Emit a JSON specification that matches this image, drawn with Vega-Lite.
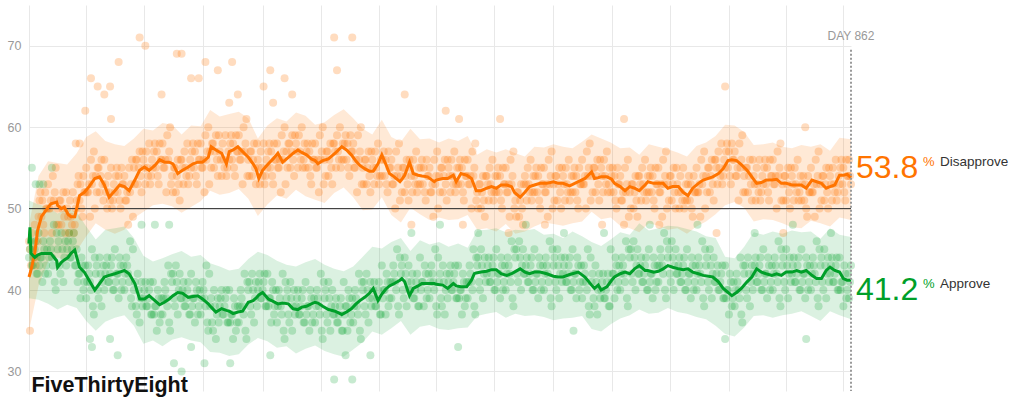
{
"$schema": "https://vega.github.io/schema/vega-lite/v6.json",
"width": 822,
"height": 386,
"autosize": {"type": "none"},
"padding": {"left": 29, "top": 5, "right": 159, "bottom": 7},
"background": "white",
"config": {"font": "Liberation Sans", "view": {"stroke": null}, "axis": {"domain": false, "ticks": false, "gridColor": "#e8e8e8", "gridWidth": 1}},
"datasets": {
"band": [
{"d":0,"al":39,"ah":51,"pl":35,"ph":48},
{"d":10,"al":38.8,"ah":50.5,"pl":40.5,"ph":54},
{"d":20,"al":38.3,"ah":50.2,"pl":43.5,"ph":55.8},
{"d":30,"al":37.6,"ah":49.4,"pl":44,"ph":55.6},
{"d":40,"al":38.2,"ah":50,"pl":43.6,"ph":55.4},
{"d":50,"al":37.8,"ah":49.6,"pl":44.8,"ph":56.8},
{"d":60,"al":36.2,"ah":47.8,"pl":46.6,"ph":58.8},
{"d":70,"al":35,"ah":46.2,"pl":48.2,"ph":59.5},
{"d":80,"al":36.1,"ah":47.4,"pl":47.4,"ph":58.3},
{"d":90,"al":36.6,"ah":47.6,"pl":46.9,"ph":57.9},
{"d":100,"al":36.9,"ah":47.8,"pl":47.4,"ph":57.7},
{"d":110,"al":35.6,"ah":46.4,"pl":48.8,"ph":58.6},
{"d":120,"al":33.4,"ah":44.2,"pl":49.6,"ph":59.8},
{"d":130,"al":33.8,"ah":43.5,"pl":50.4,"ph":59.6},
{"d":140,"al":33.1,"ah":43.9,"pl":50.6,"ph":60.5},
{"d":150,"al":33.9,"ah":44.4,"pl":50.3,"ph":60.3},
{"d":160,"al":34.2,"ah":44.8,"pl":49.5,"ph":59.1},
{"d":170,"al":33.8,"ah":44.1,"pl":50.2,"ph":60.2},
{"d":180,"al":33.6,"ah":44.3,"pl":50.9,"ph":60.1},
{"d":190,"al":32.4,"ah":43.3,"pl":52.2,"ph":62.1},
{"d":200,"al":32.3,"ah":42.9,"pl":51.7,"ph":61.3},
{"d":210,"al":31.9,"ah":42.4,"pl":51.9,"ph":61.6},
{"d":220,"al":32.1,"ah":42.6,"pl":52.4,"ph":61.9},
{"d":230,"al":33.3,"ah":43.8,"pl":51.2,"ph":61.1},
{"d":240,"al":34.1,"ah":44.7,"pl":49.1,"ph":58.6},
{"d":250,"al":33.7,"ah":44.3,"pl":50.5,"ph":60.2},
{"d":260,"al":32.9,"ah":43.6,"pl":51.6,"ph":61.1},
{"d":270,"al":33.1,"ah":43.1,"pl":51.2,"ph":60.7},
{"d":280,"al":32.2,"ah":42.9,"pl":52.3,"ph":61.8},
{"d":290,"al":32.8,"ah":43.4,"pl":51.5,"ph":61.4},
{"d":300,"al":33.2,"ah":43.8,"pl":51.1,"ph":60.3},
{"d":310,"al":32.5,"ah":43.1,"pl":50.7,"ph":60.6},
{"d":320,"al":32.1,"ah":42.6,"pl":51.9,"ph":61.5},
{"d":330,"al":31.8,"ah":42.3,"pl":52.6,"ph":62.2},
{"d":340,"al":32.7,"ah":42.9,"pl":51.4,"ph":61.1},
{"d":350,"al":33.6,"ah":44.1,"pl":49.8,"ph":59.8},
{"d":360,"al":34.9,"ah":45.3,"pl":49.9,"ph":59.1},
{"d":370,"al":34.5,"ah":45.1,"pl":51.4,"ph":60.9},
{"d":380,"al":35.3,"ah":45.9,"pl":49.2,"ph":58.8},
{"d":390,"al":36.2,"ah":46.4,"pl":48.3,"ph":58.2},
{"d":400,"al":34.5,"ah":44.8,"pl":50.1,"ph":59.8},
{"d":410,"al":35.5,"ah":46.1,"pl":49.3,"ph":58.5},
{"d":420,"al":35.7,"ah":45.6,"pl":48.6,"ph":58.6},
{"d":430,"al":35.2,"ah":45.9,"pl":48.9,"ph":58.1},
{"d":440,"al":35.1,"ah":45.3,"pl":48.6,"ph":58.6},
{"d":450,"al":35.3,"ah":45.7,"pl":48.7,"ph":58.3},
{"d":460,"al":35.4,"ah":45.2,"pl":49.2,"ph":58.9},
{"d":470,"al":36.8,"ah":47.3,"pl":47.4,"ph":56.6},
{"d":480,"al":37.1,"ah":47.4,"pl":47.6,"ph":57.3},
{"d":490,"al":37.3,"ah":47.6,"pl":47.2,"ph":56.9},
{"d":500,"al":36.6,"ah":47.1,"pl":48.1,"ph":57.3},
{"d":510,"al":37.1,"ah":47.4,"pl":46.9,"ph":56.8},
{"d":520,"al":36.8,"ah":47.3,"pl":47.2,"ph":56.4},
{"d":530,"al":36.9,"ah":47.5,"pl":47.8,"ph":57.6},
{"d":540,"al":36.7,"ah":46.8,"pl":48.3,"ph":57.5},
{"d":550,"al":36.3,"ah":46.9,"pl":48.1,"ph":57.9},
{"d":560,"al":36.5,"ah":46.4,"pl":47.9,"ph":57.6},
{"d":570,"al":36.6,"ah":47.2,"pl":48.2,"ph":57.4},
{"d":580,"al":36.8,"ah":46.6,"pl":48.4,"ph":58.2},
{"d":590,"al":35.2,"ah":45.9,"pl":49.6,"ph":59.1},
{"d":600,"al":34.9,"ah":45.4,"pl":48.7,"ph":58.6},
{"d":610,"al":35.8,"ah":46.2,"pl":48.9,"ph":58.1},
{"d":620,"al":36.5,"ah":47.1,"pl":47.9,"ph":57.4},
{"d":630,"al":36.9,"ah":46.8,"pl":47.6,"ph":57.5},
{"d":640,"al":37.6,"ah":48.2,"pl":47.1,"ph":56.6},
{"d":650,"al":37.1,"ah":47.3,"pl":48.2,"ph":57.9},
{"d":660,"al":37.2,"ah":47.6,"pl":47.9,"ph":57.6},
{"d":670,"al":37.8,"ah":47.9,"pl":47.4,"ph":57.3},
{"d":680,"al":37.3,"ah":47.8,"pl":47.6,"ph":56.9},
{"d":690,"al":37.1,"ah":47.5,"pl":46.9,"ph":56.4},
{"d":700,"al":36.7,"ah":47.2,"pl":47.8,"ph":57.7},
{"d":710,"al":36.4,"ah":46.6,"pl":48.4,"ph":58.1},
{"d":720,"al":35.6,"ah":46.4,"pl":49.3,"ph":58.9},
{"d":730,"al":34.6,"ah":44.1,"pl":50.4,"ph":60.3},
{"d":740,"al":34.3,"ah":43.9,"pl":50.8,"ph":60.2},
{"d":750,"al":35.4,"ah":45.3,"pl":50.1,"ph":59.4},
{"d":760,"al":36.8,"ah":47.1,"pl":48.4,"ph":57.8},
{"d":770,"al":36.9,"ah":46.8,"pl":48.7,"ph":57.9},
{"d":780,"al":36.6,"ah":47.2,"pl":48.6,"ph":58.1},
{"d":790,"al":36.9,"ah":46.9,"pl":48.2,"ph":57.6},
{"d":800,"al":37.1,"ah":47.3,"pl":47.7,"ph":57.4},
{"d":810,"al":37.4,"ah":47.1,"pl":47.6,"ph":57.8},
{"d":820,"al":36.8,"ah":47.2,"pl":48.5,"ph":57.6},
{"d":830,"al":36.2,"ah":46.3,"pl":48.2,"ph":57.9},
{"d":840,"al":37.4,"ah":47.6,"pl":47.8,"ph":57.1},
{"d":850,"al":36.9,"ah":46.8,"pl":48.9,"ph":58.7},
{"d":862,"al":36.4,"ah":46.5,"pl":48.6,"ph":58.5}
],
"trend": [
{"d":0,"a":45.7,"p":41.6},{"d":1,"a":47.7,"p":42},{"d":2,"a":44.5,"p":42.4},{"d":6,"a":44,"p":44.5},{"d":9,"a":44.3,"p":47.3},{"d":13,"a":44.5,"p":49},{"d":18,"a":44.5,"p":49.8},{"d":23,"a":44.5,"p":50.6},{"d":29,"a":43.6,"p":50.8},{"d":30,"a":42.8,"p":50.4},{"d":34,"a":43.4,"p":50},{"d":37,"a":43.7,"p":50.2},{"d":41,"a":44,"p":49.3},{"d":44,"a":44.5,"p":49},{"d":48,"a":44.9,"p":49},{"d":53,"a":42.8,"p":51.6},{"d":58,"a":42.2,"p":52},{"d":63,"a":41.2,"p":52.7},{"d":69,"a":40,"p":53.7},{"d":74,"a":40.8,"p":53.9},{"d":79,"a":41.6,"p":52.9},{"d":84,"a":41.8,"p":51.4},{"d":90,"a":42,"p":52.2},{"d":95,"a":42.2,"p":52.9},{"d":100,"a":42.4,"p":52.7},{"d":105,"a":42,"p":52.2},{"d":111,"a":40.8,"p":53.5},{"d":116,"a":38.9,"p":54.7},{"d":121,"a":38.9,"p":55.1},{"d":126,"a":39.3,"p":54.7},{"d":132,"a":38.7,"p":55.3},{"d":137,"a":38.2,"p":56},{"d":142,"a":38.5,"p":55.7},{"d":147,"a":38.9,"p":55.7},{"d":151,"a":39.3,"p":55.5},{"d":156,"a":39.7,"p":54.3},{"d":161,"a":39.6,"p":54.7},{"d":167,"a":39.1,"p":55.1},{"d":172,"a":39.2,"p":55.5},{"d":177,"a":39.3,"p":55.7},{"d":182,"a":38.9,"p":55.7},{"d":188,"a":38.3,"p":56.3},{"d":191,"a":37.9,"p":57.6},{"d":196,"a":37.3,"p":57.2},{"d":202,"a":37.7,"p":56.8},{"d":207,"a":37.5,"p":55.5},{"d":210,"a":37.4,"p":57},{"d":214,"a":37.1,"p":57.2},{"d":219,"a":37.3,"p":57.6},{"d":224,"a":37.4,"p":57},{"d":230,"a":38.5,"p":56.3},{"d":235,"a":38.7,"p":55.5},{"d":238,"a":39,"p":54.9},{"d":241,"a":39.4,"p":53.7},{"d":245,"a":39.7,"p":54.7},{"d":251,"a":38.9,"p":55.5},{"d":256,"a":38.6,"p":56.1},{"d":261,"a":38.3,"p":56.8},{"d":266,"a":38.4,"p":55.7},{"d":272,"a":38.3,"p":56.3},{"d":277,"a":37.7,"p":56.8},{"d":282,"a":37.6,"p":57.2},{"d":286,"a":37.9,"p":56.9},{"d":291,"a":38,"p":56.6},{"d":296,"a":38.3,"p":56.1},{"d":300,"a":38.5,"p":55.9},{"d":303,"a":38.4,"p":55.5},{"d":308,"a":38,"p":55.9},{"d":314,"a":37.6,"p":56.1},{"d":321,"a":37.4,"p":56.8},{"d":328,"a":37,"p":57.6},{"d":333,"a":37.3,"p":57.2},{"d":338,"a":37.7,"p":56.6},{"d":343,"a":38.3,"p":55.8},{"d":347,"a":38.7,"p":55.3},{"d":352,"a":39.1,"p":54.9},{"d":357,"a":39.6,"p":54.6},{"d":361,"a":40.2,"p":54.6},{"d":366,"a":38.7,"p":55.5},{"d":370,"a":39.5,"p":56.6},{"d":374,"a":40.1,"p":55.5},{"d":378,"a":40.5,"p":54.3},{"d":383,"a":40.8,"p":53.9},{"d":389,"a":41.2,"p":53.3},{"d":391,"a":41.4,"p":53.6},{"d":394,"a":41,"p":54.1},{"d":399,"a":39.3,"p":55.7},{"d":403,"a":40.2,"p":54.3},{"d":408,"a":40.5,"p":54.1},{"d":412,"a":40.8,"p":54},{"d":418,"a":40.8,"p":53.9},{"d":425,"a":40.8,"p":53.3},{"d":427,"a":40.7,"p":53.5},{"d":434,"a":40.6,"p":53.7},{"d":439,"a":40.2,"p":53.7},{"d":445,"a":40.8,"p":54.1},{"d":448,"a":40.5,"p":53.3},{"d":453,"a":40.4,"p":54.3},{"d":459,"a":40.4,"p":54.1},{"d":464,"a":41.2,"p":53.7},{"d":467,"a":42,"p":52.8},{"d":469,"a":42.1,"p":52.2},{"d":474,"a":42.2,"p":52.2},{"d":480,"a":42.3,"p":52.5},{"d":485,"a":42.5,"p":52.7},{"d":490,"a":42.5,"p":52.5},{"d":495,"a":42,"p":52.9},{"d":501,"a":41.8,"p":52.9},{"d":506,"a":42,"p":52.7},{"d":509,"a":42.2,"p":52},{"d":515,"a":42.6,"p":51.4},{"d":520,"a":42.2,"p":52},{"d":525,"a":42,"p":52.7},{"d":530,"a":42.2,"p":52.9},{"d":536,"a":42.2,"p":53.1},{"d":543,"a":42,"p":53.1},{"d":550,"a":41.7,"p":53.3},{"d":555,"a":41.6,"p":53.1},{"d":560,"a":41.6,"p":53.1},{"d":567,"a":41.9,"p":52.8},{"d":576,"a":42.2,"p":53.3},{"d":583,"a":41.6,"p":53.7},{"d":590,"a":40.6,"p":54.5},{"d":593,"a":40.2,"p":53.7},{"d":597,"a":40.6,"p":53.8},{"d":600,"a":40,"p":53.9},{"d":606,"a":40.4,"p":53.9},{"d":611,"a":41.2,"p":53.6},{"d":614,"a":41.6,"p":53.1},{"d":620,"a":42,"p":52.7},{"d":625,"a":42.2,"p":52.2},{"d":630,"a":42,"p":52.7},{"d":635,"a":42.6,"p":52.5},{"d":640,"a":43,"p":52.2},{"d":646,"a":42.4,"p":52.9},{"d":649,"a":42.4,"p":53.3},{"d":655,"a":42.2,"p":53.1},{"d":660,"a":42.3,"p":53.1},{"d":665,"a":42.6,"p":53.1},{"d":670,"a":43,"p":52.5},{"d":675,"a":42.8,"p":52.7},{"d":681,"a":42.6,"p":52.7},{"d":686,"a":42.5,"p":52},{"d":691,"a":42.6,"p":51.6},{"d":696,"a":42.2,"p":52.5},{"d":702,"a":42,"p":53.1},{"d":707,"a":41.8,"p":53.5},{"d":717,"a":41.6,"p":53.9},{"d":723,"a":41,"p":54.3},{"d":728,"a":40.2,"p":54.9},{"d":733,"a":39.7,"p":55.9},{"d":737,"a":39.3,"p":56},{"d":742,"a":39.7,"p":55.9},{"d":747,"a":40.2,"p":55.4},{"d":753,"a":41,"p":54.7},{"d":758,"a":41.6,"p":53.9},{"d":763,"a":42.6,"p":53.1},{"d":768,"a":42.2,"p":53.2},{"d":773,"a":42,"p":53.5},{"d":779,"a":41.8,"p":53.5},{"d":784,"a":42,"p":53.6},{"d":789,"a":41.8,"p":53.1},{"d":794,"a":42.2,"p":53.1},{"d":800,"a":42.2,"p":52.9},{"d":805,"a":42.4,"p":52.9},{"d":810,"a":42.2,"p":52.9},{"d":815,"a":42.4,"p":52.5},{"d":821,"a":41.8,"p":53.5},{"d":826,"a":41.4,"p":53.3},{"d":831,"a":41.4,"p":53.1},{"d":836,"a":42.4,"p":52.5},{"d":840,"a":42.8,"p":52.7},{"d":845,"a":42.4,"p":52.9},{"d":850,"a":42.2,"p":54.1},{"d":854,"a":41.4,"p":54.1},{"d":858,"a":41.2,"p":54.2},{"d":862,"a":41.2,"p":53.8}
],
"polls": [
{"d":0,"a":44,"p":46},{"d":2,"a":46,"p":43},{"d":4,"a":43,"p":45},{"d":6,"a":45,"p":48},{"d":8,"a":42,"p":44},
{"d":10,"a":47,"p":49},{"d":12,"a":44,"p":52},{"d":14,"a":41,"p":51},{"d":16,"a":45,"p":47},{"d":18,"a":43,"p":50},
{"d":20,"a":42,"p":53},{"d":22,"a":46,"p":50},{"d":24,"a":44,"p":47},{"d":26,"a":48,"p":51},{"d":28,"a":40,"p":55},
{"d":30,"a":45,"p":50},{"d":32,"a":43,"p":51},{"d":34,"a":47,"p":48},{"d":36,"a":41,"p":52},{"d":38,"a":46,"p":47},
{"d":40,"a":45,"p":50},{"d":42,"a":47,"p":47},{"d":44,"a":44,"p":49},{"d":46,"a":46,"p":52},{"d":48,"a":43,"p":48},
{"d":50,"a":45,"p":51},{"d":52,"a":42,"p":54},{"d":54,"a":39,"p":53},{"d":56,"a":43,"p":49},{"d":58,"a":41,"p":52},
{"d":60,"a":39,"p":55},{"d":62,"a":43,"p":52},{"d":64,"a":41,"p":49},{"d":66,"a":45,"p":53},{"d":68,"a":37,"p":57},
{"d":70,"a":42,"p":54},{"d":72,"a":40,"p":55},{"d":74,"a":44,"p":52},{"d":76,"a":38,"p":56},{"d":78,"a":43,"p":51},
{"d":80,"a":42,"p":53},{"d":82,"a":44,"p":50},{"d":84,"a":41,"p":52},{"d":86,"a":43,"p":55},{"d":88,"a":40,"p":51},
{"d":90,"a":45,"p":52},{"d":92,"a":42,"p":55},{"d":94,"a":39,"p":54},{"d":96,"a":43,"p":50},{"d":98,"a":41,"p":53},
{"d":100,"a":40,"p":54},{"d":102,"a":44,"p":51},{"d":104,"a":42,"p":48},{"d":106,"a":46,"p":52},{"d":108,"a":38,"p":56},
{"d":110,"a":40,"p":55},{"d":112,"a":38,"p":56},{"d":114,"a":42,"p":53},{"d":116,"a":36,"p":57},{"d":118,"a":41,"p":52},
{"d":120,"a":39,"p":56},{"d":122,"a":41,"p":53},{"d":124,"a":38,"p":55},{"d":126,"a":40,"p":58},{"d":128,"a":37,"p":54},
{"d":130,"a":41,"p":55},{"d":132,"a":38,"p":58},{"d":134,"a":35,"p":57},{"d":136,"a":39,"p":53},{"d":138,"a":37,"p":56},
{"d":140,"a":37,"p":58},{"d":142,"a":41,"p":55},{"d":144,"a":39,"p":52},{"d":146,"a":43,"p":56},{"d":148,"a":35,"p":60},
{"d":150,"a":41,"p":54},{"d":152,"a":39,"p":55},{"d":154,"a":43,"p":52},{"d":156,"a":37,"p":56},{"d":158,"a":42,"p":51},
{"d":160,"a":39,"p":56},{"d":162,"a":41,"p":53},{"d":164,"a":38,"p":55},{"d":166,"a":40,"p":58},{"d":168,"a":37,"p":54},
{"d":170,"a":42,"p":55},{"d":172,"a":39,"p":58},{"d":174,"a":36,"p":57},{"d":176,"a":40,"p":53},{"d":178,"a":38,"p":56},
{"d":180,"a":37,"p":58},{"d":182,"a":41,"p":55},{"d":184,"a":39,"p":52},{"d":186,"a":43,"p":56},{"d":188,"a":35,"p":60},
{"d":190,"a":38,"p":57},{"d":192,"a":36,"p":58},{"d":194,"a":40,"p":55},{"d":196,"a":34,"p":59},{"d":198,"a":39,"p":54},
{"d":200,"a":38,"p":57},{"d":202,"a":40,"p":54},{"d":204,"a":37,"p":56},{"d":206,"a":39,"p":59},{"d":208,"a":36,"p":55},
{"d":210,"a":40,"p":56},{"d":212,"a":37,"p":59},{"d":214,"a":34,"p":58},{"d":216,"a":38,"p":54},{"d":218,"a":36,"p":57},
{"d":220,"a":36,"p":59},{"d":222,"a":40,"p":56},{"d":224,"a":38,"p":53},{"d":226,"a":42,"p":57},{"d":228,"a":34,"p":61},
{"d":230,"a":40,"p":56},{"d":232,"a":38,"p":57},{"d":234,"a":42,"p":54},{"d":236,"a":36,"p":58},{"d":238,"a":41,"p":53},
{"d":240,"a":40,"p":56},{"d":242,"a":42,"p":53},{"d":244,"a":39,"p":55},{"d":246,"a":41,"p":58},{"d":248,"a":38,"p":54},
{"d":250,"a":42,"p":55},{"d":252,"a":39,"p":58},{"d":254,"a":36,"p":57},{"d":256,"a":40,"p":53},{"d":258,"a":38,"p":56},
{"d":260,"a":36,"p":58},{"d":262,"a":40,"p":55},{"d":264,"a":38,"p":52},{"d":266,"a":42,"p":56},{"d":268,"a":34,"p":60},
{"d":270,"a":39,"p":57},{"d":272,"a":37,"p":58},{"d":274,"a":41,"p":55},{"d":276,"a":35,"p":59},{"d":278,"a":40,"p":54},
{"d":280,"a":38,"p":58},{"d":282,"a":40,"p":55},{"d":284,"a":37,"p":57},{"d":286,"a":39,"p":60},{"d":288,"a":36,"p":56},
{"d":290,"a":41,"p":55},{"d":292,"a":38,"p":58},{"d":294,"a":35,"p":57},{"d":296,"a":39,"p":53},{"d":298,"a":37,"p":56},
{"d":300,"a":36,"p":58},{"d":302,"a":40,"p":55},{"d":304,"a":38,"p":52},{"d":306,"a":42,"p":56},{"d":308,"a":34,"p":60},
{"d":310,"a":39,"p":56},{"d":312,"a":37,"p":57},{"d":314,"a":41,"p":54},{"d":316,"a":35,"p":58},{"d":318,"a":40,"p":53},
{"d":320,"a":37,"p":58},{"d":322,"a":39,"p":55},{"d":324,"a":36,"p":57},{"d":326,"a":38,"p":60},{"d":328,"a":35,"p":56},
{"d":330,"a":41,"p":56},{"d":332,"a":38,"p":59},{"d":334,"a":35,"p":58},{"d":336,"a":39,"p":54},{"d":338,"a":37,"p":57},
{"d":340,"a":36,"p":58},{"d":342,"a":40,"p":55},{"d":344,"a":38,"p":52},{"d":346,"a":42,"p":56},{"d":348,"a":34,"p":60},
{"d":350,"a":40,"p":55},{"d":352,"a":38,"p":56},{"d":354,"a":42,"p":53},{"d":356,"a":36,"p":57},{"d":358,"a":41,"p":52},
{"d":360,"a":39,"p":56},{"d":362,"a":41,"p":53},{"d":364,"a":38,"p":55},{"d":366,"a":40,"p":58},{"d":368,"a":37,"p":54},
{"d":370,"a":43,"p":54},{"d":372,"a":40,"p":57},{"d":374,"a":37,"p":56},{"d":376,"a":41,"p":52},{"d":378,"a":39,"p":55},
{"d":380,"a":39,"p":56},{"d":382,"a":43,"p":53},{"d":384,"a":41,"p":50},{"d":386,"a":45,"p":54},{"d":388,"a":37,"p":58},
{"d":390,"a":42,"p":54},{"d":392,"a":40,"p":55},{"d":394,"a":44,"p":52},{"d":396,"a":38,"p":56},{"d":398,"a":43,"p":51},
{"d":400,"a":40,"p":55},{"d":402,"a":42,"p":52},{"d":404,"a":39,"p":54},{"d":406,"a":41,"p":57},{"d":408,"a":38,"p":53},
{"d":410,"a":44,"p":53},{"d":412,"a":41,"p":56},{"d":414,"a":38,"p":55},{"d":416,"a":42,"p":51},{"d":418,"a":40,"p":54},
{"d":420,"a":39,"p":55},{"d":422,"a":43,"p":52},{"d":424,"a":41,"p":49},{"d":426,"a":45,"p":53},{"d":428,"a":37,"p":57},
{"d":430,"a":41,"p":54},{"d":432,"a":39,"p":55},{"d":434,"a":43,"p":52},{"d":436,"a":37,"p":56},{"d":438,"a":42,"p":51},
{"d":440,"a":41,"p":55},{"d":442,"a":43,"p":52},{"d":444,"a":40,"p":54},{"d":446,"a":42,"p":57},{"d":448,"a":39,"p":53},
{"d":450,"a":43,"p":53},{"d":452,"a":40,"p":56},{"d":454,"a":37,"p":55},{"d":456,"a":41,"p":51},{"d":458,"a":39,"p":54},
{"d":460,"a":39,"p":56},{"d":462,"a":43,"p":53},{"d":464,"a":41,"p":50},{"d":466,"a":45,"p":54},{"d":468,"a":37,"p":58},
{"d":470,"a":43,"p":52},{"d":472,"a":41,"p":53},{"d":474,"a":45,"p":50},{"d":476,"a":39,"p":54},{"d":478,"a":44,"p":49},
{"d":480,"a":42,"p":54},{"d":482,"a":44,"p":51},{"d":484,"a":41,"p":53},{"d":486,"a":43,"p":56},{"d":488,"a":40,"p":52},
{"d":490,"a":45,"p":52},{"d":492,"a":42,"p":55},{"d":494,"a":39,"p":54},{"d":496,"a":43,"p":50},{"d":498,"a":41,"p":53},
{"d":500,"a":40,"p":55},{"d":502,"a":44,"p":52},{"d":504,"a":42,"p":49},{"d":506,"a":46,"p":53},{"d":508,"a":38,"p":57},
{"d":510,"a":44,"p":51},{"d":512,"a":42,"p":52},{"d":514,"a":46,"p":49},{"d":516,"a":40,"p":53},{"d":518,"a":45,"p":48},
{"d":520,"a":42,"p":54},{"d":522,"a":44,"p":51},{"d":524,"a":41,"p":53},{"d":526,"a":43,"p":56},{"d":528,"a":40,"p":52},
{"d":530,"a":45,"p":52},{"d":532,"a":42,"p":55},{"d":534,"a":39,"p":54},{"d":536,"a":43,"p":50},{"d":538,"a":41,"p":53},
{"d":540,"a":40,"p":55},{"d":542,"a":44,"p":52},{"d":544,"a":42,"p":49},{"d":546,"a":46,"p":53},{"d":548,"a":38,"p":57},
{"d":550,"a":43,"p":53},{"d":552,"a":41,"p":54},{"d":554,"a":45,"p":51},{"d":556,"a":39,"p":55},{"d":558,"a":44,"p":50},
{"d":560,"a":42,"p":54},{"d":562,"a":44,"p":51},{"d":564,"a":41,"p":53},{"d":566,"a":43,"p":56},{"d":568,"a":40,"p":52},
{"d":570,"a":45,"p":52},{"d":572,"a":42,"p":55},{"d":574,"a":39,"p":54},{"d":576,"a":43,"p":50},{"d":578,"a":41,"p":53},
{"d":580,"a":39,"p":56},{"d":582,"a":43,"p":53},{"d":584,"a":41,"p":50},{"d":586,"a":45,"p":54},{"d":588,"a":37,"p":58},
{"d":590,"a":41,"p":54},{"d":592,"a":39,"p":55},{"d":594,"a":43,"p":52},{"d":596,"a":37,"p":56},{"d":598,"a":42,"p":51},
{"d":600,"a":40,"p":55},{"d":602,"a":42,"p":52},{"d":604,"a":39,"p":54},{"d":606,"a":41,"p":57},{"d":608,"a":38,"p":53},
{"d":610,"a":45,"p":52},{"d":612,"a":42,"p":55},{"d":614,"a":39,"p":54},{"d":616,"a":43,"p":50},{"d":618,"a":41,"p":53},
{"d":620,"a":40,"p":54},{"d":622,"a":44,"p":51},{"d":624,"a":42,"p":48},{"d":626,"a":46,"p":52},{"d":628,"a":38,"p":56},
{"d":630,"a":44,"p":52},{"d":632,"a":42,"p":53},{"d":634,"a":46,"p":50},{"d":636,"a":40,"p":54},{"d":638,"a":45,"p":49},
{"d":640,"a":42,"p":54},{"d":642,"a":44,"p":51},{"d":644,"a":41,"p":53},{"d":646,"a":43,"p":56},{"d":648,"a":40,"p":52},
{"d":650,"a":45,"p":52},{"d":652,"a":42,"p":55},{"d":654,"a":39,"p":54},{"d":656,"a":43,"p":50},{"d":658,"a":41,"p":53},
{"d":660,"a":41,"p":55},{"d":662,"a":45,"p":52},{"d":664,"a":43,"p":49},{"d":666,"a":47,"p":53},{"d":668,"a":39,"p":57},
{"d":670,"a":44,"p":53},{"d":672,"a":42,"p":54},{"d":674,"a":46,"p":51},{"d":676,"a":40,"p":55},{"d":678,"a":45,"p":50},
{"d":680,"a":42,"p":53},{"d":682,"a":44,"p":50},{"d":684,"a":41,"p":52},{"d":686,"a":43,"p":55},{"d":688,"a":40,"p":51},
{"d":690,"a":45,"p":51},{"d":692,"a":42,"p":54},{"d":694,"a":39,"p":53},{"d":696,"a":43,"p":49},{"d":698,"a":41,"p":52},
{"d":700,"a":40,"p":55},{"d":702,"a":44,"p":52},{"d":704,"a":42,"p":49},{"d":706,"a":46,"p":53},{"d":708,"a":38,"p":57},
{"d":710,"a":43,"p":54},{"d":712,"a":41,"p":55},{"d":714,"a":45,"p":52},{"d":716,"a":39,"p":56},{"d":718,"a":44,"p":51},
{"d":720,"a":41,"p":56},{"d":722,"a":43,"p":53},{"d":724,"a":40,"p":55},{"d":726,"a":42,"p":58},{"d":728,"a":39,"p":54},
{"d":730,"a":43,"p":55},{"d":732,"a":40,"p":58},{"d":734,"a":37,"p":57},{"d":736,"a":41,"p":53},{"d":738,"a":39,"p":56},
{"d":740,"a":38,"p":57},{"d":742,"a":42,"p":54},{"d":744,"a":40,"p":51},{"d":746,"a":44,"p":55},{"d":748,"a":36,"p":59},
{"d":750,"a":42,"p":54},{"d":752,"a":40,"p":55},{"d":754,"a":44,"p":52},{"d":756,"a":38,"p":56},{"d":758,"a":43,"p":51},
{"d":760,"a":42,"p":54},{"d":762,"a":44,"p":51},{"d":764,"a":41,"p":53},{"d":766,"a":43,"p":56},{"d":768,"a":40,"p":52},
{"d":770,"a":45,"p":53},{"d":772,"a":42,"p":56},{"d":774,"a":39,"p":55},{"d":776,"a":43,"p":51},{"d":778,"a":41,"p":54},
{"d":780,"a":40,"p":56},{"d":782,"a":44,"p":53},{"d":784,"a":42,"p":50},{"d":786,"a":46,"p":54},{"d":788,"a":38,"p":58},
{"d":790,"a":43,"p":53},{"d":792,"a":41,"p":54},{"d":794,"a":45,"p":51},{"d":796,"a":39,"p":55},{"d":798,"a":44,"p":50},
{"d":800,"a":42,"p":54},{"d":802,"a":44,"p":51},{"d":804,"a":41,"p":53},{"d":806,"a":43,"p":56},{"d":808,"a":40,"p":52},
{"d":810,"a":45,"p":51},{"d":812,"a":42,"p":54},{"d":814,"a":39,"p":53},{"d":816,"a":43,"p":49},{"d":818,"a":41,"p":52},
{"d":820,"a":40,"p":55},{"d":822,"a":44,"p":52},{"d":824,"a":42,"p":49},{"d":826,"a":46,"p":53},{"d":828,"a":38,"p":57},
{"d":830,"a":43,"p":53},{"d":832,"a":41,"p":54},{"d":834,"a":45,"p":51},{"d":836,"a":39,"p":55},{"d":838,"a":44,"p":50},
{"d":840,"a":42,"p":54},{"d":842,"a":44,"p":51},{"d":844,"a":41,"p":53},{"d":846,"a":43,"p":56},{"d":848,"a":40,"p":52},
{"d":850,"a":44,"p":53},{"d":852,"a":41,"p":56},{"d":854,"a":38,"p":55},{"d":856,"a":42,"p":51},{"d":858,"a":40,"p":54},
{"d":860,"a":39,"p":56},{"d":862,"a":43,"p":53},
{"d":1,"a":45,"p":45},{"d":3,"a":43,"p":47},{"d":5,"a":44,"p":44},{"d":7,"a":46,"p":43},{"d":9,"a":42,"p":46},
{"d":11,"a":43,"p":51},{"d":13,"a":44,"p":49},{"d":15,"a":46,"p":48},{"d":17,"a":42,"p":52},{"d":19,"a":45,"p":50},
{"d":21,"a":44,"p":50},{"d":23,"a":45,"p":51},{"d":25,"a":43,"p":54},{"d":27,"a":41,"p":52},{"d":29,"a":47,"p":48},
{"d":31,"a":46,"p":48},{"d":33,"a":42,"p":51},{"d":35,"a":45,"p":50},{"d":37,"a":44,"p":49},{"d":39,"a":43,"p":52},
{"d":41,"a":46,"p":49},{"d":43,"a":44,"p":51},{"d":45,"a":45,"p":48},{"d":47,"a":47,"p":47},{"d":49,"a":43,"p":50},
{"d":51,"a":41,"p":53},{"d":53,"a":42,"p":51},{"d":55,"a":44,"p":50},{"d":57,"a":40,"p":54},{"d":59,"a":43,"p":52},
{"d":61,"a":41,"p":52},{"d":63,"a":42,"p":53},{"d":65,"a":40,"p":56},{"d":67,"a":38,"p":54},{"d":69,"a":44,"p":50},
{"d":71,"a":43,"p":52},{"d":73,"a":39,"p":55},{"d":75,"a":42,"p":54},{"d":77,"a":41,"p":53},{"d":79,"a":40,"p":56},
{"d":81,"a":43,"p":52},{"d":83,"a":41,"p":54},{"d":85,"a":42,"p":51},{"d":87,"a":44,"p":50},{"d":89,"a":40,"p":53},
{"d":91,"a":41,"p":54},{"d":93,"a":42,"p":52},{"d":95,"a":44,"p":51},{"d":97,"a":40,"p":55},{"d":99,"a":43,"p":53},
{"d":101,"a":42,"p":51},{"d":103,"a":43,"p":52},{"d":105,"a":41,"p":55},{"d":107,"a":39,"p":53},{"d":109,"a":45,"p":49},
{"d":111,"a":41,"p":53},{"d":113,"a":37,"p":56},{"d":115,"a":40,"p":55},{"d":117,"a":39,"p":54},{"d":119,"a":38,"p":57},
{"d":121,"a":40,"p":55},{"d":123,"a":38,"p":57},{"d":125,"a":39,"p":54},{"d":127,"a":41,"p":53},{"d":129,"a":37,"p":56},
{"d":131,"a":37,"p":57},{"d":133,"a":38,"p":55},{"d":135,"a":40,"p":54},{"d":137,"a":36,"p":58},{"d":139,"a":39,"p":56},
{"d":141,"a":39,"p":55},{"d":143,"a":40,"p":56},{"d":145,"a":38,"p":59},{"d":147,"a":36,"p":57},{"d":149,"a":42,"p":53},
{"d":151,"a":42,"p":52},{"d":153,"a":38,"p":55},{"d":155,"a":41,"p":54},{"d":157,"a":40,"p":53},{"d":159,"a":39,"p":56},
{"d":161,"a":40,"p":55},{"d":163,"a":38,"p":57},{"d":165,"a":39,"p":54},{"d":167,"a":41,"p":53},{"d":169,"a":37,"p":56},
{"d":171,"a":38,"p":57},{"d":173,"a":39,"p":55},{"d":175,"a":41,"p":54},{"d":177,"a":37,"p":58},{"d":179,"a":40,"p":56},
{"d":181,"a":39,"p":55},{"d":183,"a":40,"p":56},{"d":185,"a":38,"p":59},{"d":187,"a":36,"p":57},{"d":189,"a":42,"p":53},
{"d":191,"a":39,"p":55},{"d":193,"a":35,"p":58},{"d":195,"a":38,"p":57},{"d":197,"a":37,"p":56},{"d":199,"a":36,"p":59},
{"d":201,"a":39,"p":56},{"d":203,"a":37,"p":58},{"d":205,"a":38,"p":55},{"d":207,"a":40,"p":54},{"d":209,"a":36,"p":57},
{"d":211,"a":36,"p":58},{"d":213,"a":37,"p":56},{"d":215,"a":39,"p":55},{"d":217,"a":35,"p":59},{"d":219,"a":38,"p":57},
{"d":221,"a":38,"p":56},{"d":223,"a":39,"p":57},{"d":225,"a":37,"p":60},{"d":227,"a":35,"p":58},{"d":229,"a":41,"p":54},
{"d":231,"a":41,"p":54},{"d":233,"a":37,"p":57},{"d":235,"a":40,"p":56},{"d":237,"a":39,"p":55},{"d":239,"a":38,"p":58},
{"d":241,"a":41,"p":55},{"d":243,"a":39,"p":57},{"d":245,"a":40,"p":54},{"d":247,"a":42,"p":53},{"d":249,"a":38,"p":56},
{"d":251,"a":38,"p":57},{"d":253,"a":39,"p":55},{"d":255,"a":41,"p":54},{"d":257,"a":37,"p":58},{"d":259,"a":40,"p":56},
{"d":261,"a":38,"p":55},{"d":263,"a":39,"p":56},{"d":265,"a":37,"p":59},{"d":267,"a":35,"p":57},{"d":269,"a":41,"p":53},
{"d":271,"a":40,"p":55},{"d":273,"a":36,"p":58},{"d":275,"a":39,"p":57},{"d":277,"a":38,"p":56},{"d":279,"a":37,"p":59},
{"d":281,"a":39,"p":57},{"d":283,"a":37,"p":59},{"d":285,"a":38,"p":56},{"d":287,"a":40,"p":55},{"d":289,"a":36,"p":58},
{"d":291,"a":37,"p":57},{"d":293,"a":38,"p":55},{"d":295,"a":40,"p":54},{"d":297,"a":36,"p":58},{"d":299,"a":39,"p":56},
{"d":301,"a":38,"p":55},{"d":303,"a":39,"p":56},{"d":305,"a":37,"p":59},{"d":307,"a":35,"p":57},{"d":309,"a":41,"p":53},
{"d":311,"a":40,"p":54},{"d":313,"a":36,"p":57},{"d":315,"a":39,"p":56},{"d":317,"a":38,"p":55},{"d":319,"a":37,"p":58},
{"d":321,"a":38,"p":57},{"d":323,"a":36,"p":59},{"d":325,"a":37,"p":56},{"d":327,"a":39,"p":55},{"d":329,"a":35,"p":58},
{"d":331,"a":37,"p":58},{"d":333,"a":38,"p":56},{"d":335,"a":40,"p":55},{"d":337,"a":36,"p":59},{"d":339,"a":39,"p":57},
{"d":341,"a":38,"p":55},{"d":343,"a":39,"p":56},{"d":345,"a":37,"p":59},{"d":347,"a":35,"p":57},{"d":349,"a":41,"p":53},
{"d":351,"a":41,"p":53},{"d":353,"a":37,"p":56},{"d":355,"a":40,"p":55},{"d":357,"a":39,"p":54},{"d":359,"a":38,"p":57},
{"d":361,"a":40,"p":55},{"d":363,"a":38,"p":57},{"d":365,"a":39,"p":54},{"d":367,"a":41,"p":53},{"d":369,"a":37,"p":56},
{"d":371,"a":39,"p":56},{"d":373,"a":40,"p":54},{"d":375,"a":42,"p":53},{"d":377,"a":38,"p":57},{"d":379,"a":41,"p":55},
{"d":381,"a":41,"p":53},{"d":383,"a":42,"p":54},{"d":385,"a":40,"p":57},{"d":387,"a":38,"p":55},{"d":389,"a":44,"p":51},
{"d":391,"a":43,"p":52},{"d":393,"a":39,"p":55},{"d":395,"a":42,"p":54},{"d":397,"a":41,"p":53},{"d":399,"a":40,"p":56},
{"d":401,"a":41,"p":54},{"d":403,"a":39,"p":56},{"d":405,"a":40,"p":53},{"d":407,"a":42,"p":52},{"d":409,"a":38,"p":55},
{"d":411,"a":40,"p":55},{"d":413,"a":41,"p":53},{"d":415,"a":43,"p":52},{"d":417,"a":39,"p":56},{"d":419,"a":42,"p":54},
{"d":421,"a":41,"p":52},{"d":423,"a":42,"p":53},{"d":425,"a":40,"p":56},{"d":427,"a":38,"p":54},{"d":429,"a":44,"p":50},
{"d":431,"a":42,"p":52},{"d":433,"a":38,"p":55},{"d":435,"a":41,"p":54},{"d":437,"a":40,"p":53},{"d":439,"a":39,"p":56},
{"d":441,"a":42,"p":54},{"d":443,"a":40,"p":56},{"d":445,"a":41,"p":53},{"d":447,"a":43,"p":52},{"d":449,"a":39,"p":55},
{"d":451,"a":39,"p":55},{"d":453,"a":40,"p":53},{"d":455,"a":42,"p":52},{"d":457,"a":38,"p":56},{"d":459,"a":41,"p":54},
{"d":461,"a":41,"p":53},{"d":463,"a":42,"p":54},{"d":465,"a":40,"p":57},{"d":467,"a":38,"p":55},{"d":469,"a":44,"p":51},
{"d":471,"a":44,"p":50},{"d":473,"a":40,"p":53},{"d":475,"a":43,"p":52},{"d":477,"a":42,"p":51},{"d":479,"a":41,"p":54},
{"d":481,"a":43,"p":53},{"d":483,"a":41,"p":55},{"d":485,"a":42,"p":52},{"d":487,"a":44,"p":51},{"d":489,"a":40,"p":54},
{"d":491,"a":41,"p":54},{"d":493,"a":42,"p":52},{"d":495,"a":44,"p":51},{"d":497,"a":40,"p":55},{"d":499,"a":43,"p":53},
{"d":501,"a":42,"p":52},{"d":503,"a":43,"p":53},{"d":505,"a":41,"p":56},{"d":507,"a":39,"p":54},{"d":509,"a":45,"p":50},
{"d":511,"a":45,"p":49},{"d":513,"a":41,"p":52},{"d":515,"a":44,"p":51},{"d":517,"a":43,"p":50},{"d":519,"a":42,"p":53},
{"d":521,"a":43,"p":53},{"d":523,"a":41,"p":55},{"d":525,"a":42,"p":52},{"d":527,"a":44,"p":51},{"d":529,"a":40,"p":54},
{"d":531,"a":41,"p":54},{"d":533,"a":42,"p":52},{"d":535,"a":44,"p":51},{"d":537,"a":40,"p":55},{"d":539,"a":43,"p":53},
{"d":541,"a":42,"p":52},{"d":543,"a":43,"p":53},{"d":545,"a":41,"p":56},{"d":547,"a":39,"p":54},{"d":549,"a":45,"p":50},
{"d":551,"a":44,"p":51},{"d":553,"a":40,"p":54},{"d":555,"a":43,"p":53},{"d":557,"a":42,"p":52},{"d":559,"a":41,"p":55},
{"d":561,"a":43,"p":53},{"d":563,"a":41,"p":55},{"d":565,"a":42,"p":52},{"d":567,"a":44,"p":51},{"d":569,"a":40,"p":54},
{"d":571,"a":41,"p":54},{"d":573,"a":42,"p":52},{"d":575,"a":44,"p":51},{"d":577,"a":40,"p":55},{"d":579,"a":43,"p":53},
{"d":581,"a":41,"p":53},{"d":583,"a":42,"p":54},{"d":585,"a":40,"p":57},{"d":587,"a":38,"p":55},{"d":589,"a":44,"p":51},
{"d":591,"a":42,"p":52},{"d":593,"a":38,"p":55},{"d":595,"a":41,"p":54},{"d":597,"a":40,"p":53},{"d":599,"a":39,"p":56},
{"d":601,"a":41,"p":54},{"d":603,"a":39,"p":56},{"d":605,"a":40,"p":53},{"d":607,"a":42,"p":52},{"d":609,"a":38,"p":55},
{"d":611,"a":41,"p":54},{"d":613,"a":42,"p":52},{"d":615,"a":44,"p":51},{"d":617,"a":40,"p":55},{"d":619,"a":43,"p":53},
{"d":621,"a":42,"p":51},{"d":623,"a":43,"p":52},{"d":625,"a":41,"p":55},{"d":627,"a":39,"p":53},{"d":629,"a":45,"p":49},
{"d":631,"a":45,"p":50},{"d":633,"a":41,"p":53},{"d":635,"a":44,"p":52},{"d":637,"a":43,"p":51},{"d":639,"a":42,"p":54},
{"d":641,"a":43,"p":53},{"d":643,"a":41,"p":55},{"d":645,"a":42,"p":52},{"d":647,"a":44,"p":51},{"d":649,"a":40,"p":54},
{"d":651,"a":41,"p":54},{"d":653,"a":42,"p":52},{"d":655,"a":44,"p":51},{"d":657,"a":40,"p":55},{"d":659,"a":43,"p":53},
{"d":661,"a":43,"p":52},{"d":663,"a":44,"p":53},{"d":665,"a":42,"p":56},{"d":667,"a":40,"p":54},{"d":669,"a":46,"p":50},
{"d":671,"a":45,"p":51},{"d":673,"a":41,"p":54},{"d":675,"a":44,"p":53},{"d":677,"a":43,"p":52},{"d":679,"a":42,"p":55},
{"d":681,"a":43,"p":52},{"d":683,"a":41,"p":54},{"d":685,"a":42,"p":51},{"d":687,"a":44,"p":50},{"d":689,"a":40,"p":53},
{"d":691,"a":41,"p":53},{"d":693,"a":42,"p":51},{"d":695,"a":44,"p":50},{"d":697,"a":40,"p":54},{"d":699,"a":43,"p":52},
{"d":701,"a":42,"p":52},{"d":703,"a":43,"p":53},{"d":705,"a":41,"p":56},{"d":707,"a":39,"p":54},{"d":709,"a":45,"p":50},
{"d":711,"a":44,"p":52},{"d":713,"a":40,"p":55},{"d":715,"a":43,"p":54},{"d":717,"a":42,"p":53},{"d":719,"a":41,"p":56},
{"d":721,"a":42,"p":55},{"d":723,"a":40,"p":57},{"d":725,"a":41,"p":54},{"d":727,"a":43,"p":53},{"d":729,"a":39,"p":56},
{"d":731,"a":39,"p":57},{"d":733,"a":40,"p":55},{"d":735,"a":42,"p":54},{"d":737,"a":38,"p":58},{"d":739,"a":41,"p":56},
{"d":741,"a":40,"p":54},{"d":743,"a":41,"p":55},{"d":745,"a":39,"p":58},{"d":747,"a":37,"p":56},{"d":749,"a":43,"p":52},
{"d":751,"a":43,"p":52},{"d":753,"a":39,"p":55},{"d":755,"a":42,"p":54},{"d":757,"a":41,"p":53},{"d":759,"a":40,"p":56},
{"d":761,"a":43,"p":53},{"d":763,"a":41,"p":55},{"d":765,"a":42,"p":52},{"d":767,"a":44,"p":51},{"d":769,"a":40,"p":54},
{"d":771,"a":41,"p":55},{"d":773,"a":42,"p":53},{"d":775,"a":44,"p":52},{"d":777,"a":40,"p":56},{"d":779,"a":43,"p":54},
{"d":781,"a":42,"p":53},{"d":783,"a":43,"p":54},{"d":785,"a":41,"p":57},{"d":787,"a":39,"p":55},{"d":789,"a":45,"p":51},
{"d":791,"a":44,"p":51},{"d":793,"a":40,"p":54},{"d":795,"a":43,"p":53},{"d":797,"a":42,"p":52},{"d":799,"a":41,"p":55},
{"d":801,"a":43,"p":53},{"d":803,"a":41,"p":55},{"d":805,"a":42,"p":52},{"d":807,"a":44,"p":51},{"d":809,"a":40,"p":54},
{"d":811,"a":41,"p":53},{"d":813,"a":42,"p":51},{"d":815,"a":44,"p":50},{"d":817,"a":40,"p":54},{"d":819,"a":43,"p":52},
{"d":821,"a":42,"p":52},{"d":823,"a":43,"p":53},{"d":825,"a":41,"p":56},{"d":827,"a":39,"p":54},{"d":829,"a":45,"p":50},
{"d":831,"a":44,"p":51},{"d":833,"a":40,"p":54},{"d":835,"a":43,"p":53},{"d":837,"a":42,"p":52},{"d":839,"a":41,"p":55},
{"d":841,"a":43,"p":53},{"d":843,"a":41,"p":55},{"d":845,"a":42,"p":52},{"d":847,"a":44,"p":51},{"d":849,"a":40,"p":54},
{"d":851,"a":40,"p":55},{"d":853,"a":41,"p":53},{"d":855,"a":43,"p":52},{"d":857,"a":39,"p":56},{"d":859,"a":42,"p":54},
{"d":861,"a":41,"p":54},
{"d":1,"p":35},{"d":49,"p":58},{"d":53,"p":58},{"d":59,"p":62},{"d":65,"p":66},{"d":72,"p":65},{"d":79,"p":64},{"d":85,"p":65},{"d":86,"p":61},{"d":94,"p":68},{"d":116,"p":71},{"d":122,"p":70},{"d":139,"p":64},{"d":155,"p":69},{"d":160,"p":69},{"d":170,"p":66},{"d":178,"p":66},{"d":185,"p":68},{"d":198,"p":67},{"d":210,"p":63},{"d":213,"p":68},{"d":219,"p":64},{"d":246,"p":65},{"d":253,"p":67},{"d":256,"p":63},{"d":268,"p":66},{"d":276,"p":64},{"d":320,"p":71},{"d":323,"p":67},{"d":339,"p":71},{"d":394,"p":64},{"d":437,"p":62},{"d":451,"p":61},{"d":494,"p":61},{"d":624,"p":61},{"d":730,"p":65},{"d":814,"p":60},
{"d":401,"p":48},{"d":455,"p":48},{"d":503,"p":47},{"d":541,"p":48},{"d":601,"p":48},{"d":661,"p":48},{"d":721,"p":47},{"d":791,"p":47},
{"d":3,"a":55},{"d":24,"a":55},{"d":7,"a":53},{"d":11,"a":53},{"d":15,"a":53},{"d":64,"a":34},{"d":66,"a":33},{"d":85,"a":34},{"d":93,"a":32},{"d":118,"a":48},{"d":132,"a":48},{"d":147,"a":48},{"d":152,"a":31},{"d":160,"a":30},{"d":170,"a":33},{"d":184,"a":31},{"d":211,"a":31},{"d":253,"a":32},{"d":320,"a":29},{"d":332,"a":32},{"d":339,"a":29},{"d":358,"a":32},{"d":450,"a":33},{"d":571,"a":35},{"d":730,"a":34},{"d":815,"a":34},
{"d":401,"a":47},{"d":431,"a":48},{"d":471,"a":47},{"d":521,"a":48},{"d":561,"a":47},{"d":603,"a":47},{"d":651,"a":48},{"d":701,"a":48},{"d":761,"a":47},{"d":801,"a":48},{"d":841,"a":47}
]
},
"layer": [
{"data": {"name": "band"}, "mark": {"type": "area", "color": "#ff7400", "opacity": 0.16},
 "encoding": {
  "x": {"field": "d", "type": "quantitative", "scale": {"domain": [0, 862], "nice": false, "zero": false},
        "axis": {"values": [0, 59.5, 121, 182, 245, 306, 367, 426.5, 488, 549, 611, 672.5, 734, 793.5, 854], "labels": false, "grid": true, "title": null}},
  "y": {"field": "pl", "type": "quantitative", "scale": {"domain": [27.6, 75], "nice": false, "zero": false},
        "axis": {"values": [30, 40, 50, 60, 70], "grid": true, "title": null, "labelColor": "#999999", "labelFontSize": 12.5, "labelPadding": 8}},
  "y2": {"field": "ph"}}},
{"data": {"name": "band"}, "mark": {"type": "area", "color": "#009f29", "opacity": 0.14},
 "encoding": {"x": {"field": "d", "type": "quantitative"}, "y": {"field": "al", "type": "quantitative"}, "y2": {"field": "ah"}}},
{"data": {"name": "polls"}, "mark": {"type": "circle", "size": 64, "color": "#ff7400", "opacity": 0.25},
 "encoding": {"x": {"field": "d", "type": "quantitative"}, "y": {"field": "p", "type": "quantitative"}}},
{"data": {"name": "polls"}, "mark": {"type": "circle", "size": 64, "color": "#009f29", "opacity": 0.22},
 "encoding": {"x": {"field": "d", "type": "quantitative"}, "y": {"field": "a", "type": "quantitative"}}},
{"data": {"values": [{}]}, "mark": {"type": "rule", "color": "#333333", "strokeWidth": 1},
 "encoding": {"y": {"datum": 50, "type": "quantitative"}}},
{"data": {"name": "trend"}, "mark": {"type": "line", "color": "#ff7400", "strokeWidth": 3},
 "encoding": {"x": {"field": "d", "type": "quantitative"}, "y": {"field": "p", "type": "quantitative"}}},
{"data": {"name": "trend"}, "mark": {"type": "line", "color": "#009f29", "strokeWidth": 3},
 "encoding": {"x": {"field": "d", "type": "quantitative"}, "y": {"field": "a", "type": "quantitative"}}},
{"data": {"values": [{}]}, "mark": {"type": "rule", "color": "#999999", "strokeWidth": 2, "strokeDash": [2, 2]},
 "encoding": {"x": {"datum": 862, "type": "quantitative"}, "y": {"datum": 69.5, "type": "quantitative"}, "y2": {"datum": 27.6}}},
{"data": {"values": [{}]}, "mark": {"type": "text", "text": "DAY 862", "align": "center", "baseline": "alphabetic", "fontSize": 12, "color": "#999999"},
 "encoding": {"x": {"datum": 862, "type": "quantitative"}, "y": {"datum": 70.7, "type": "quantitative"}}},
{"data": {"values": [{}]}, "mark": {"type": "text", "text": "53.8", "align": "left", "baseline": "alphabetic", "dx": 5, "fontSize": 32, "color": "#ff7400"},
 "encoding": {"x": {"datum": 862, "type": "quantitative"}, "y": {"datum": 53.8, "type": "quantitative"}}},
{"data": {"values": [{}]}, "mark": {"type": "text", "text": "%", "align": "left", "baseline": "alphabetic", "dx": 72, "dy": -12, "fontSize": 13, "color": "#ff7400"},
 "encoding": {"x": {"datum": 862, "type": "quantitative"}, "y": {"datum": 53.8, "type": "quantitative"}}},
{"data": {"values": [{}]}, "mark": {"type": "text", "text": "Disapprove", "align": "left", "baseline": "alphabetic", "dx": 89, "dy": -12, "fontSize": 13.5, "color": "#333333"},
 "encoding": {"x": {"datum": 862, "type": "quantitative"}, "y": {"datum": 53.8, "type": "quantitative"}}},
{"data": {"values": [{}]}, "mark": {"type": "text", "text": "41.2", "align": "left", "baseline": "alphabetic", "dx": 5, "dy": 20, "fontSize": 32, "color": "#009f29"},
 "encoding": {"x": {"datum": 862, "type": "quantitative"}, "y": {"datum": 41.2, "type": "quantitative"}}},
{"data": {"values": [{}]}, "mark": {"type": "text", "text": "%", "align": "left", "baseline": "alphabetic", "dx": 72, "dy": 8, "fontSize": 13, "color": "#009f29"},
 "encoding": {"x": {"datum": 862, "type": "quantitative"}, "y": {"datum": 41.2, "type": "quantitative"}}},
{"data": {"values": [{}]}, "mark": {"type": "text", "text": "Approve", "align": "left", "baseline": "alphabetic", "dx": 89, "dy": 7.7, "fontSize": 13.5, "color": "#333333"},
 "encoding": {"x": {"datum": 862, "type": "quantitative"}, "y": {"datum": 41.2, "type": "quantitative"}}},
{"data": {"values": [{}]}, "mark": {"type": "text", "text": "FiveThirtyEight", "align": "left", "baseline": "alphabetic", "fontSize": 21.5, "fontWeight": "bold", "color": "#111111"},
 "encoding": {"x": {"datum": 2.5, "type": "quantitative"}, "y": {"datum": 27.45, "type": "quantitative"}}}
]
}
